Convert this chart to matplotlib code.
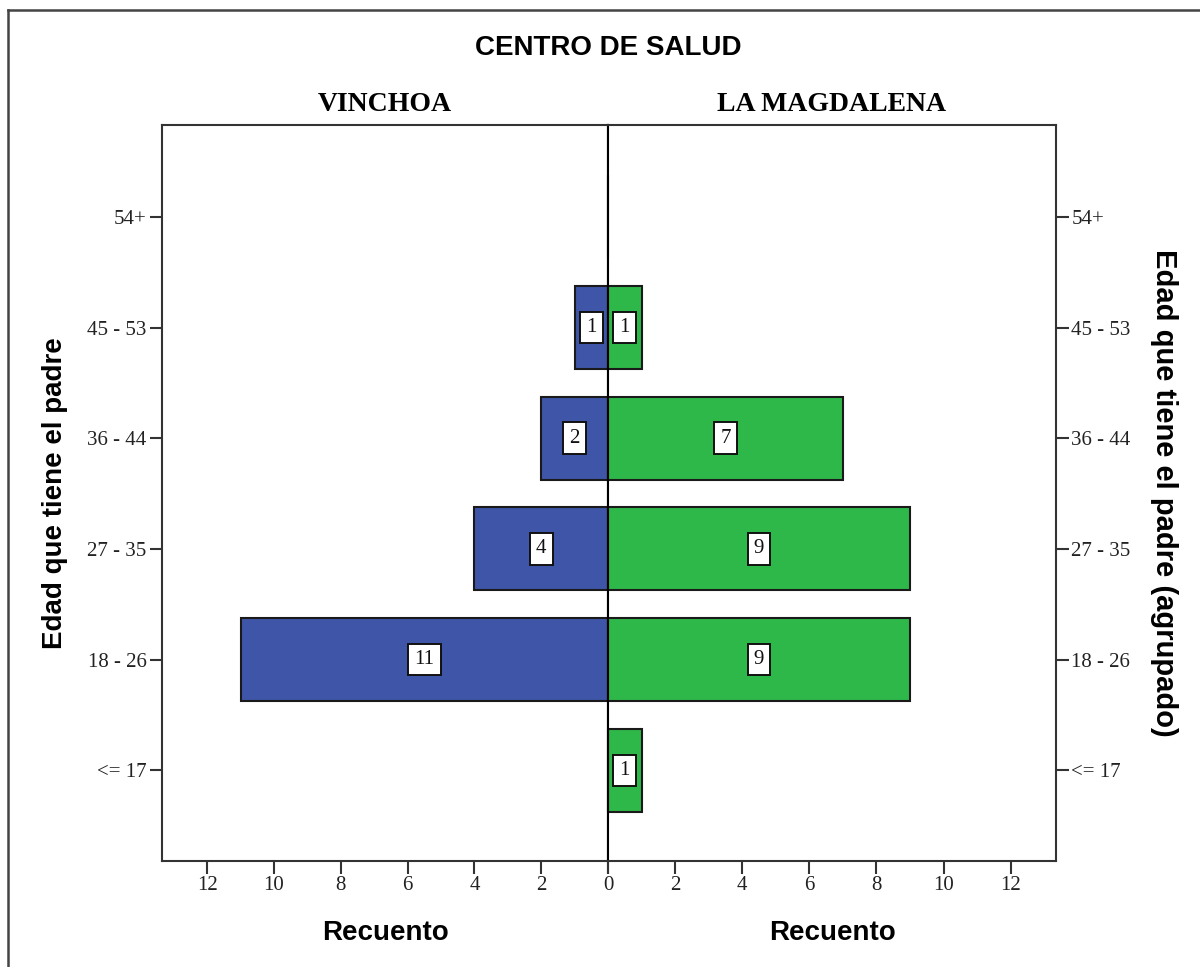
import matplotlib
matplotlib.use("Agg")
import matplotlib.pyplot as plt
from matplotlib.lines import Line2D

categories = ['<= 17', '18 - 26', '27 - 35', '36 - 44', '45 - 53', '54+']
vinchoa = [0, 11, 4, 2, 1, 0]
magdalena = [1, 9, 9, 7, 1, 0]
x_ticks = [0, 2, 4, 6, 8, 10, 12]

blue = '#3F56A8'
green = '#2EB84A'
edge = '#1a1a1a'
serif = ['Liberation Serif', 'DejaVu Serif']
sans = ['Liberation Sans', 'DejaVu Sans']

fig = plt.figure(figsize=(12, 9.67), dpi=100)
axL = fig.add_axes([0.135, 0.1096, 0.3717, 0.7611])
axR = fig.add_axes([0.5067, 0.1096, 0.3733, 0.7611])

ypos = list(range(len(categories)))
xmax = 13.35
tfs = 15

for ax, vals, col in [(axL, vinchoa, blue), (axR, magdalena, green)]:
    ax.barh(ypos, vals, height=0.75, color=col, edgecolor=edge, linewidth=1.5, zorder=2)
    ax.set_ylim(-0.82, 5.83)
    ax.set_xticks(x_ticks)
    ax.set_yticks(ypos)
    ax.set_yticklabels(categories, fontfamily=serif, fontsize=tfs)
    ax.tick_params(axis='both', direction='out', length=9, width=1.5, color='#333333',
                   labelsize=tfs, labelcolor='#222222', pad=2)
    for s in ax.spines.values():
        s.set_linewidth(1.5)
        s.set_color('#333333')
    for y, v in zip(ypos, vals):
        if v > 0:
            ax.text(v / 2, y, str(v), ha='center', va='center', fontsize=15,
                    fontfamily=serif, color='#111111', zorder=4,
                    bbox=dict(boxstyle='square,pad=0.3', facecolor='white',
                              edgecolor='#111111', linewidth=1.4))
    ax.set_xlabel('Recuento', fontfamily=sans, fontsize=20, fontweight='bold', labelpad=18)

axL.set_xlim(xmax, 0)
axR.set_xlim(0, xmax)
axL.set_xticklabels([str(t) if t != 0 else '' for t in x_ticks], fontfamily=serif, fontsize=tfs)
axR.set_xticklabels([str(t) for t in x_ticks], fontfamily=serif, fontsize=tfs)

axL.yaxis.set_ticks_position('left')
axR.yaxis.set_ticks_position('right')
axR.yaxis.set_label_position('right')
axL.spines['right'].set_color('black')
axR.spines['left'].set_color('black')

axL.set_ylabel('Edad que tiene el padre', fontfamily=sans, fontsize=20, fontweight='bold', labelpad=14)
axR.set_ylabel('Edad que tiene el padre (agrupado)', fontfamily=sans, fontsize=21,
               fontweight='bold', rotation=270, labelpad=34)

axL.set_title('VINCHOA', fontfamily=serif, fontsize=20, fontweight='bold', pad=10)
axR.set_title('LA MAGDALENA', fontfamily=serif, fontsize=20, fontweight='bold', pad=10)
fig.text(0.507, 0.950, 'CENTRO DE SALUD', ha='center', va='center', fontfamily=sans,
         fontsize=20, fontweight='bold')

# outer frame lines (top and left)
fig.add_artist(Line2D([8 / 1200, 1], [1 - 10 / 967, 1 - 10 / 967], color='#444444', linewidth=1.8,
                      transform=fig.transFigure))
fig.add_artist(Line2D([8 / 1200, 8 / 1200], [0, 1 - 10 / 967], color='#444444', linewidth=1.8,
                      transform=fig.transFigure))

fig.savefig('out.png', dpi=100)
